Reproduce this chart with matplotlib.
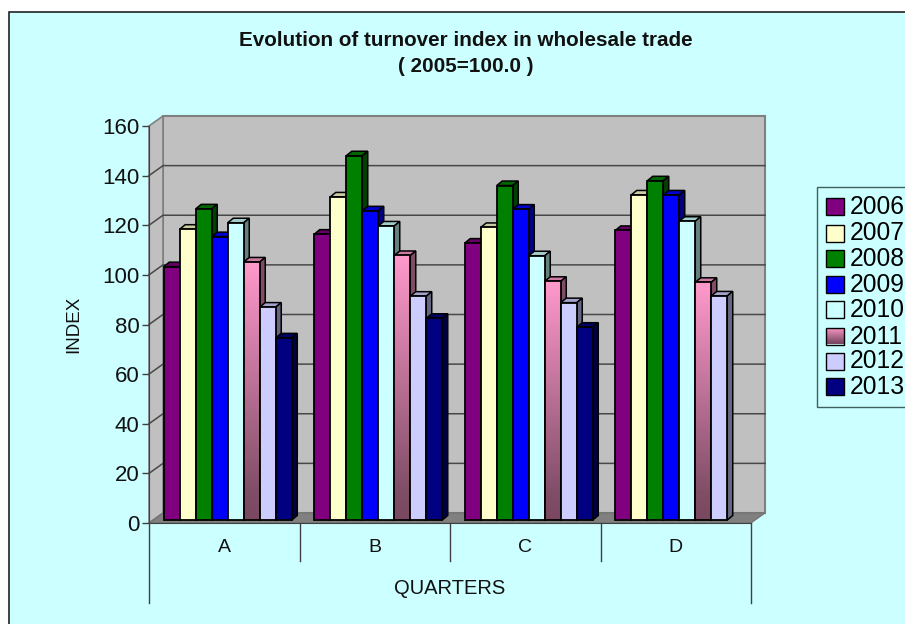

# Turnover index in wholesale trade, drawn as a fake 3D clustered bar chart
import numpy as np
import matplotlib
matplotlib.use('Agg')
import matplotlib.pyplot as plt
from matplotlib.colors import LinearSegmentedColormap, to_rgb
from matplotlib.patches import Rectangle

plt.rcParams['font.family'] = ['Liberation Sans', 'DejaVu Sans']

# 1 Data
quarters = ['A', 'B', 'C', 'D']
years = ['2006', '2007', '2008', '2009', '2010', '2011', '2012', '2013']
values_2006 = [102.1, 115.2, 111.6, 116.7]
values_2007 = [117.2, 130.2, 117.9, 131.0]
values_2008 = [125.4, 146.8, 134.8, 136.7]
values_2009 = [114.2, 124.6, 125.3, 131.0]
values_2010 = [119.8, 118.5, 106.5, 120.4]
values_2011 = [104.0, 106.6, 96.2, 95.8]
values_2012 = [85.8, 90.2, 87.6, 90.3]
values_2013 = [73.4, 81.3, 77.7, np.nan]
series = [values_2006, values_2007, values_2008, values_2009,
          values_2010, values_2011, values_2012, values_2013]
colors = ['#800080', '#FFFFCC', '#008000', '#0000FF',
          '#CCFFFF', '#FF99CC', '#CCCCFF', '#000080']
y_ticks = [0, 20, 40, 60, 80, 100, 120, 140, 160]

# 2 Sizes in pixels, turned into data units for the depth effect
W, H = 905, 624
LEFT, RIGHT, BOTTOM, TOP = 149, 751, 523, 126
PX_X = 4 / (RIGHT - LEFT)
PX_Y = 160 / (BOTTOM - TOP)
WALL_X, WALL_Y = 14 * PX_X, 10 * PX_Y
BAR_W = 16 * PX_X
BAR_X0, BAR_Y0 = 3.5 * PX_X, 3 * PX_Y
DEPTH_X, DEPTH_Y = 5.5 * PX_X, 4.5 * PX_Y
BG = '#CCFFFF'
gradient = LinearSegmentedColormap.from_list('pink', [(0, '#7A4860'), (0.1, '#7F4D66'), (1, '#FF99CC')])


def shade(color, k):
    return tuple(c * k for c in to_rgb(color))


fig = plt.figure(figsize=(W / 100, H / 100), dpi=100, facecolor='white')

# page axes in pixels, for the frame, title and legend
page = fig.add_axes([0, 0, 1, 1], zorder=0)
page.set_xlim(0, W)
page.set_ylim(H, 0)
page.axis('off')
page.add_patch(Rectangle((9, 12), W + 10, H + 10, facecolor=BG, edgecolor='#222222', linewidth=1.2))
page.text(465.5, 40, 'Evolution of turnover index in wholesale trade', fontsize=14.9,
          fontweight='bold', ha='center', va='center', color='#111111')
page.text(465.5, 66, '( 2005=100.0 )', fontsize=14.9, fontweight='bold', ha='center', va='center',
          color='#111111')

ax = fig.add_axes([LEFT / W, 1 - BOTTOM / H, (RIGHT - LEFT) / W, (BOTTOM - TOP) / H], zorder=1)
ax.patch.set_visible(False)
ax.set_xlim(0, 4)
ax.set_ylim(0, 160)

# 3 Walls and floor
ax.fill([WALL_X, 4 + WALL_X, 4 + WALL_X, WALL_X], [WALL_Y, WALL_Y, 160 + WALL_Y, 160 + WALL_Y],
        facecolor='#C0C0C0', edgecolor='#808080', linewidth=1.5, clip_on=False, zorder=1)
ax.fill([0, WALL_X, WALL_X, 0], [0, WALL_Y, 160 + WALL_Y, 160],
        facecolor='#C0C0C0', edgecolor='#808080', linewidth=1.2, clip_on=False, zorder=1)
ax.fill([0, 4, 4 + WALL_X, WALL_X], [0, 0, WALL_Y, WALL_Y],
        facecolor='#808080', edgecolor='#707070', linewidth=0.8, clip_on=False, zorder=1)
for t in y_ticks[1:-1]:
    ax.plot([0, WALL_X, 4 + WALL_X], [t, t + WALL_Y, t + WALL_Y], color='#484848',
            linewidth=1.1, clip_on=False, zorder=2)

# 4 Bars, left to right so each front hides the side of the one before
for q in range(len(quarters)):
    start = q + 0.5 + BAR_X0 - BAR_W * len(years) / 2
    for j, year in enumerate(years):
        val = series[j][q]
        if np.isnan(val):
            continue
        x0 = start + j * BAR_W
        x1 = x0 + BAR_W
        z = 3 + q * 10 + j
        top = val + BAR_Y0
        ax.fill([x0, x1, x1 + DEPTH_X, x0 + DEPTH_X], [top, top, top + DEPTH_Y, top + DEPTH_Y],
                facecolor=shade(colors[j], 0.8), edgecolor='black', linewidth=1.1, zorder=z,
                clip_on=False)
        ax.fill([x1, x1 + DEPTH_X, x1 + DEPTH_X, x1],
                [BAR_Y0, BAR_Y0 + DEPTH_Y, top + DEPTH_Y, top],
                facecolor=shade(colors[j], 0.5), edgecolor='black', linewidth=1.1, zorder=z,
                clip_on=False)
        bar = ax.bar(x0, val, BAR_W, bottom=BAR_Y0, align='edge', color=colors[j],
                     edgecolor='black', linewidth=1.3, zorder=z + 0.2, clip_on=False)[0]
        if year == '2011':
            bar.set_facecolor('none')
            img = ax.imshow(np.linspace(1, 0, 128).reshape(-1, 1), cmap=gradient, aspect='auto',
                            extent=(x0, x1, BAR_Y0, top), zorder=z + 0.1, vmin=0, vmax=1)
            img.set_clip_path(bar)

ax.set_xlim(0, 4)
ax.set_ylim(0, 160)

# 5 Axes
for side in ['top', 'right']:
    ax.spines[side].set_visible(False)
ax.spines['left'].set_color('#404040')
ax.spines['bottom'].set_color('#404040')
ax.spines['left'].set_zorder(100)
ax.spines['bottom'].set_zorder(100)
ax.set_yticks(y_ticks)
ax.tick_params(axis='y', length=5, width=1, color='#404040', labelsize=16, pad=2, labelcolor='#111111')
ax.set_xticks([q + 0.5 for q in range(len(quarters))], quarters)
ax.tick_params(axis='x', length=0, labelsize=14, pad=11.5, labelcolor='#111111')
ax.set_ylabel('INDEX', fontsize=13.5, labelpad=14.5, color='#111111')
ax.xaxis.set_label_coords(0.508, -0.1655)
ax.set_xlabel('QUARTERS', fontsize=14.5, color='#111111', va='center')

# category separators under the axis
for q in range(5):
    low = 603 if q in (0, 4) else 561
    page.plot([LEFT + q * (RIGHT - LEFT) / 4] * 2, [BOTTOM, low], color='#404040', linewidth=1.0)

# 6 Legend
page.add_patch(Rectangle((817, 187), 120, 220, facecolor=BG, edgecolor='#406060', linewidth=1.0))
legend_y = [206.5, 233, 258, 284, 309.5, 336, 361, 386]
for j, year in enumerate(years):
    y = legend_y[j]
    box = Rectangle((826, y - 8.5), 17.5, 17, facecolor=colors[j], edgecolor='black', linewidth=1.0, zorder=3)
    page.add_patch(box)
    if year == '2011':
        box.set_facecolor('none')
        img = page.imshow(np.linspace(1, 0, 32).reshape(-1, 1), cmap=gradient, aspect='auto',
                          extent=(826, 843.5, y + 8.5, y - 8.5), zorder=2, vmin=0, vmax=1)
        img.set_clip_path(box)
    page.text(850, y + 0.5, year, fontsize=17.7, ha='left', va='center', color='black')
page.set_xlim(0, W)
page.set_ylim(H, 0)

fig.savefig('out.png', dpi=100)
